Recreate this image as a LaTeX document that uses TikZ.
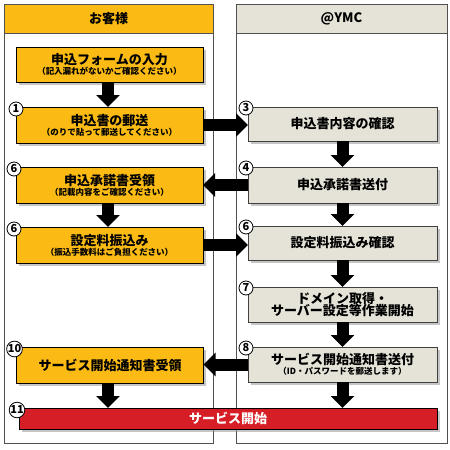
\documentclass[tikz,border=0pt]{standalone}
\usepackage{fontspec}
\setmainfont{Noto Sans CJK JP}
\usetikzlibrary{arrows.meta,shadows}

\definecolor{yel}{RGB}{251,187,20}
\definecolor{beige}{RGB}{229,227,215}
\definecolor{svred}{RGB}{214,30,38}
\definecolor{frame}{RGB}{80,80,80}

\newcommand{\boxttl}[1]{{\fontsize{13}{14}\selectfont\bfseries #1}}
\newcommand{\boxsub}[1]{{\fontsize{8.5}{9}\selectfont\bfseries #1}}

\begin{document}
\begin{tikzpicture}[x=1pt,y=-1pt,
  box/.style={draw=black,line width=0.8pt,minimum height=35pt,inner sep=0pt,outer sep=0pt,align=center,
    drop shadow={shadow xshift=2.5pt,shadow yshift=-2.5pt,fill=black!45}},
  cbox/.style={box,fill=yel,minimum width=187pt},
  ybox/.style={box,fill=beige,draw=black!75,minimum width=189pt},
  ttl/.style={font=\fontsize{13}{15}\selectfont\bfseries},
  num/.style={circle,draw=black,fill=white,line width=0.8pt,inner sep=0pt,minimum size=14pt,
    font=\fontsize{11}{11}\selectfont\bfseries},
  blk/.style={line width=12pt,-{Triangle[width=23pt,length=12pt]}},
]
\useasboundingbox (0,0) rectangle (450,450);
% lanes
\draw [frame,fill=white] (4,4) rectangle (213,443);
\draw [frame,fill=yel] (4,4) rectangle (213,33);
\node [ttl] (cust) at (108.5,18.5) {お客様};
\draw [frame,fill=white] (236,4) rectangle (447,443);
\draw [frame,fill=beige] (236,4) rectangle (447,33);
\node [ttl] (ymc) at (341.5,18.5) {@YMC};
% customer side
\node [cbox] (form) at (109.5,64.5) {\boxttl{申込フォームの入力}\\[-2pt] \boxsub{（記入漏れがないかご確認ください）}};
\node [cbox,minimum height=36pt] (mail) at (109.5,125) {\boxttl{申込書の郵送}\\[-2pt] \boxsub{（のりで貼って郵送してください）}};
\node [cbox,minimum height=36pt] (accept) at (109.5,185) {\boxttl{申込承諾書受領}\\[-2pt] \boxsub{（記載内容をご確認ください）}};
\node [cbox,minimum height=36pt] (fee) at (109.5,245) {\boxttl{設定料振込み}\\[-2pt] \boxsub{（振込手数料はご負担ください）}};
\node [cbox,minimum height=36pt,ttl] (recv) at (110,365) {サービス開始通知書受領};
% YMC side
\node [ybox,minimum height=34pt,ttl] (check) at (342.5,124) {申込書内容の確認};
\node [ybox,minimum height=36pt,ttl] (send) at (342.5,185) {申込承諾書送付};
\node [ybox,minimum height=34pt,ttl] (feechk) at (342.5,243) {設定料振込み確認};
\node [ybox,ttl,align=center] (domain) at (342.5,304.5) {ドメイン取得・\\[-3pt]サーバー設定等作業開始};
\node [ybox] (notice) at (342.5,364.5) {\boxttl{サービス開始通知書送付}\\[-2pt] \boxsub{（ID・パスワードを郵送します）}};
% start bar
\node [box,fill=svred,minimum width=418pt,minimum height=21pt,ttl,text=white] (start) at (228,418.5) {サービス開始};
% step numbers
\node [num] (n1) at (form.south west |- 0,109) {1};
\foreach \nm/\nd/\txt in {n6a/accept/6,n6b/fee/6,n10/recv/10,n11/start/11}
  \node [num] (\nm) at ([shift={(-2,2)}]\nd.north west) {\txt};
\foreach \nm/\nd/\txt in {n3/check/3,n4/send/4,n6c/feechk/6,n7/domain/7,n8/notice/8}
  \node [num] (\nm) at ([shift={(-2,1)}]\nd.north west) {\txt};
% flow
\draw [blk] (form.south -| 108,0) -- (mail.north -| 108,0);
\draw [blk] (accept.south -| 108,0) -- (fee.north -| 108,0);
\draw [blk] (recv.south -| 108,0) -- (start.north -| 108,0);
\draw [blk] (check.south) -- (send.north);
\draw [blk] (send.south) -- (feechk.north);
\draw [blk] (feechk.south) -- (domain.north);
\draw [blk] (domain.south) -- (notice.north);
\draw [blk] (notice.south) -- (start.north -| notice.south);
\draw [blk] (mail.east) -- (mail.east -| check.west);
\draw [blk] (send.west) -- (send.west -| accept.east);
\draw [blk] (fee.east) -- (fee.east -| feechk.west);
\draw [blk] (notice.west) -- (notice.west -| recv.east);
\end{tikzpicture}
\end{document}
